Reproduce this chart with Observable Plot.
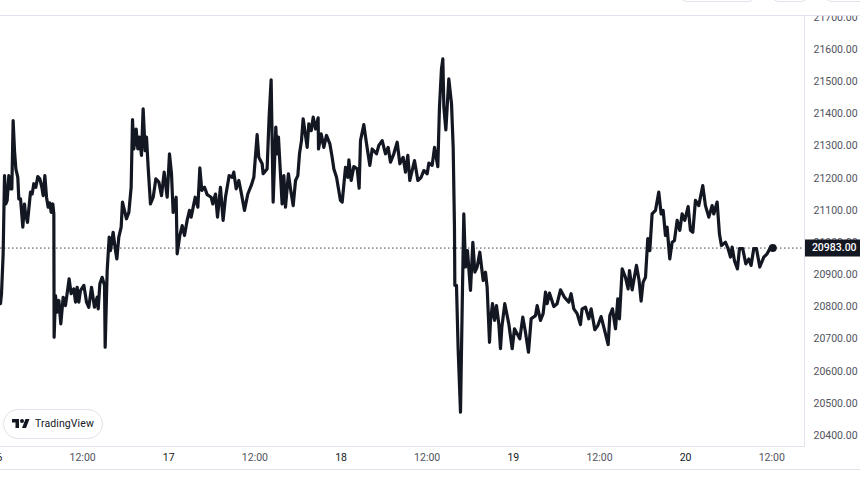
<!DOCTYPE html>
<html>
<head>
<meta charset="utf-8">
<script src="https://cdn.jsdelivr.net/npm/d3@7"></script>
<script src="https://cdn.jsdelivr.net/npm/@observablehq/plot@0.6"></script>
<style>
html,body{margin:0;padding:0;background:#fff;width:860px;height:479px;overflow:hidden}
#wrap{position:relative;width:860px;height:479px;font-family:Roboto,sans-serif}
#wrap svg{display:block}
.over{position:absolute;box-sizing:border-box}
</style>
</head>
<body>
<div id="wrap"></div>
<script>
const hours = [
0.56,0.70,0.93,1.12,1.30,1.49,1.72,1.95,2.14,2.32,2.51,2.70,2.97,3.11,3.35,3.67,3.90,4.04,4.32,4.74,4.97,5.20,5.48,5.76,6.04,6.32,6.50,6.74,6.97,7.20,7.43,7.62,7.85,7.99,8.03,8.22,8.45,8.69,8.96,9.29,9.61,10.12,10.40,10.77,11.01,11.24,11.47,11.70,12.17,12.54,12.86,13.24,13.65,14.03,14.17,14.40,14.72,15.05,15.14,15.42,15.70,15.88,16.25,16.58,16.77,17.04,17.37,17.55,18.11,18.44,18.76,18.95,19.13,19.46,19.69,19.92,20.20,20.43,20.71,20.90,21.13,21.45,21.83,22.20,22.62,22.99,23.36,23.78,24.10,24.38,24.61,25.03,25.17,25.54,25.87,26.19,26.56,26.89,27.12,27.68,28.05,28.33,28.60,28.98,29.35,29.90,30.13,30.51,30.79,31.20,31.57,31.90,32.41,32.83,33.06,33.39,33.76,34.08,34.55,35.01,35.48,35.85,36.31,36.54,37.01,37.15,37.70,37.98,38.26,38.54,38.91,39.10,39.28,39.56,39.79,40.03,40.26,40.67,40.96,
41.33,41.66,41.98,42.21,42.49,42.72,43.05,43.28,43.51,43.84,44.12,44.44,44.81,44.86,45.23,45.60,45.97,46.44,46.76,47.00,47.37,47.92,48.16,48.62,48.95,49.09,49.41,49.78,50.25,50.52,50.71,51.17,51.55,52.01,52.34,52.94,53.26,53.73,54.19,54.56,54.89,55.35,55.82,56.19,56.65,56.98,57.30,57.58,58.23,58.70,59.16,59.53,60.00,60.23,60.69,61.02,61.48,61.71,61.99,62.18,62.32,62.60,63.01,63.39,63.62,63.80,63.85,64.08,64.31,64.64,64.92,65.10,65.34,65.61,66.03,66.36,66.64,66.96,67.33,67.80,68.12,68.35,68.68,68.82,69.10,69.38,69.65,69.98,70.21,70.40,70.81,71.37,71.84,72.16,72.90,73.32,73.69,74.11,74.48,75.09,75.32,75.78,
76.15,76.48,76.71,77.03,77.64,78.10,78.57,79.12,79.73,80.05,80.42,80.89,81.35,81.58,82.05,82.51,82.84,83.35,83.77,84.23,84.60,85.21,85.44,85.81,86.23,86.55,86.78,87.16,87.62,87.99,88.18,88.55,89.15,89.52,89.80,90.08,90.41,90.73,91.01,91.33,91.80,92.26,92.59,92.87,93.19,93.42,93.79,94.12,94.44,94.82,95.19,95.51,95.88,96.35,96.67,97.00,97.37,97.83,98.39,98.76,99.23,99.69,99.92,100.39,100.71,100.99,101.55,101.92,102.25,102.48,102.80,103.22,103.50,103.96,104.38,104.80,105.12,105.49,105.87,106.33,106.89,107.35,107.72,108.14];
const prices = [
20810,20841,20965,21208,21120,21131,21208,21167,21167,21379,21286,21229,21203,21136,21136,21048,21120,21089,21063,21157,21151,21183,21172,21205,21198,21172,21146,21208,21141,21110,21123,21094,21120,21089,20706,20835,20784,20820,20747,20830,20804,20887,20841,20856,20815,20861,20815,20851,20867,20815,20799,20861,20799,20830,20794,20872,20892,20867,20675,20913,21017,20975,21032,20975,20949,21017,21048,21126,21074,21094,21172,21382,21291,21353,21291,21328,21271,21416,21286,21328,21234,21120,21141,21198,21188,21146,21219,21141,21276,21214,21094,21141,20965,21022,21053,21022,21069,21100,21079,21141,21110,21232,21162,21172,21149,21141,21120,21151,21079,21172,21069,21141,21208,21203,21219,21167,21193,21157,21100,21151,21177,21203,21336,21265,21245,21214,21229,21390,21506,21126,21359,21276,21328,21214,21120,21208,21110,21214,21167,
21115,21193,21208,21276,21317,21385,21333,21296,21369,21348,21390,21353,21388,21291,21338,21296,21333,21307,21265,21229,21203,21131,21126,21234,21203,21257,21193,21236,21229,21169,21317,21367,21307,21240,21291,21276,21302,21317,21276,21296,21250,21276,21312,21245,21265,21219,21271,21193,21255,21193,21203,21224,21214,21247,21240,21296,21236,21421,21540,21571,21421,21350,21509,21431,21296,21048,20867,20867,20670,20473,20861,21089,20924,20975,20851,21001,20908,20924,20970,20882,20908,20861,20690,20758,20810,20758,20804,20747,20670,20737,20810,20747,20670,20732,20701,20768,20721,20659,20763,20773,20804,20758,
20779,20846,20810,20843,20801,20810,20853,20830,20815,20841,20794,20779,20745,20794,20799,20763,20794,20729,20742,20770,20737,20683,20773,20794,20732,20825,20763,20918,20892,20856,20913,20853,20929,20882,20818,20877,20892,21012,20975,21089,21100,21157,21089,21100,21022,21048,20949,21001,21006,21069,21038,21089,21069,21112,21038,21032,21131,21115,21177,21115,21079,21115,21089,21126,21027,20991,21001,20981,20955,20986,20944,20918,20981,20981,20934,20949,20929,20981,20981,20924,20955,20965,20981,20983];
const dayTicks = [0,24,48,72,96];
const dayLabels = ["16","17","18","19","20"];
const hourTicks = [12,36,60,84,108];
const hourLabel = "12:00";
const priceTicks = [20400,20500,20600,20700,20800,20900,21000,21100,21200,21300,21400,21500,21600,21700];
const lastPrice = 20983;
const lastHour = 108.14;

const series = hours.map((h,i)=>({h,p:prices[i]}));
const font = "Roboto, sans-serif";
const xDomain = [0.56,112.56], yDomain = [20366,21706];
const chart = Plot.plot({
  width:860,height:479,marginTop:15,marginBottom:33,marginLeft:0,marginRight:56,
  style:{background:"#fff",fontFamily:font,fontSize:"10.5px",overflow:"visible"},
  x:{type:"linear",domain:xDomain},
  y:{type:"linear",domain:yDomain},
  marks:[
    Plot.axisY({anchor:"right",ticks:priceTicks,tickFormat:d3.format(".2f"),tickSize:0,tickPadding:9,label:null,fill:"#50535e"}),
    Plot.axisX({anchor:"bottom",ticks:hourTicks,tickFormat:()=>hourLabel,tickSize:0,tickPadding:7,label:null,fill:"#50535e"}),
    Plot.axisX({anchor:"bottom",ticks:dayTicks,tickFormat:d=>dayLabels[dayTicks.indexOf(d)],tickSize:0,tickPadding:7,label:null,fill:"#131722"}),
    Plot.ruleY([lastPrice],{stroke:"#131722",strokeWidth:1,strokeDasharray:"1.5 2.5",strokeOpacity:0.8}),
    Plot.line(series,{x:"h",y:"p",stroke:"#131722",strokeWidth:3.2,strokeLinejoin:"round"}),
    Plot.dot([{h:lastHour,p:lastPrice}],{x:"h",y:"p",r:4,fill:"#131722"}),
    Plot.ruleY([lastPrice],{x1:112.7,x2:120.6,stroke:"#131722",strokeWidth:17}),
    Plot.text([lastPrice],{x:116.7,y:d=>d,text:d=>d3.format(".2f")(d),fill:"#fff",fontSize:10.5,fontWeight:500})
  ]
});
const wrap = document.getElementById("wrap");
wrap.appendChild(chart);
function over(css,html){const d=document.createElement("div");d.className="over";d.style.cssText=css;if(html)d.innerHTML=html;wrap.appendChild(d);return d;}
over("left:0;top:0;width:860px;height:16px;background:#fff;border-bottom:1px solid #e0e3eb");
over("left:0;top:446px;width:804px;height:1px;background:#e0e3eb");
over("left:0;top:469px;width:860px;height:1px;background:#e0e3eb");
over("left:804px;top:15px;width:1px;height:432px;background:#e0e3eb");
over("left:679px;top:-20px;width:77px;height:22px;border:1px solid #e0e3eb;border-radius:8px");
over("left:771px;top:-20px;width:38px;height:22px;border:1px solid #e0e3eb;border-radius:8px");
over("left:824px;top:-20px;width:60px;height:22px;border:1px solid #e0e3eb;border-radius:8px");
over("left:3px;top:409px;width:100px;height:30px;background:#fff;border:1px solid #e0e3eb;border-radius:15px;");
over("left:35px;top:417px;font:400 10.5px/14px "+font+";color:#131722;letter-spacing:.1px","TradingView");
over("left:12px;top:419px;width:18px;height:10px",'<svg width="18" height="10" viewBox="0 0 36 20"><path fill="#131722" d="M14 18H7V7H0V0h14zM28 18h-8L27 0h8z"/><circle cx="20" cy="4" r="4" fill="#131722"/></svg>');
</script>
</body>
</html>
